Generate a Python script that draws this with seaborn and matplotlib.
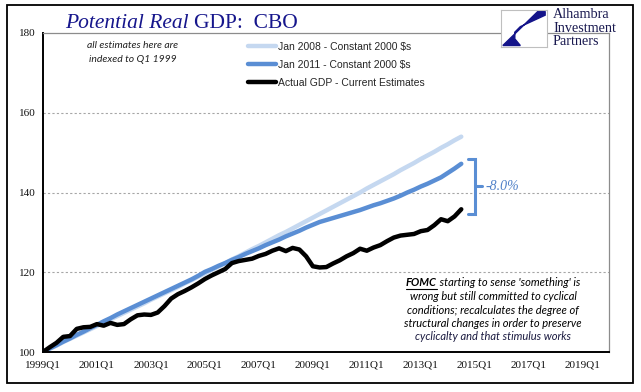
import numpy as np
import pandas as pd
import matplotlib
matplotlib.use('Agg')
import matplotlib.pyplot as plt
import seaborn as sns
from matplotlib.patches import Rectangle, Polygon
from matplotlib.lines import Line2D

# data (index, 1999Q1 = 100)
quarters = [f"{y}Q{q}" for y in range(1999, 2015) for q in range(1, 5)][:63]

jan2008 = [100.0, 100.8, 101.6, 102.5, 103.3, 104.1, 104.9, 105.7, 106.5, 107.4,
           108.2, 109.0, 109.8, 110.6, 111.4, 112.2, 113.1, 113.9, 114.7, 115.5,
           116.3, 117.2, 118.0, 118.9, 119.7, 120.6, 121.4, 122.3, 123.2, 124.0,
           124.9, 125.8, 126.6, 127.5, 128.4, 129.3, 130.1, 131.0, 131.9, 132.8,
           133.7, 134.6, 135.5, 136.4, 137.3, 138.2, 139.1, 140.0, 141.0, 141.9,
           142.8, 143.7, 144.6, 145.6, 146.5, 147.4, 148.4, 149.3, 150.2, 151.2,
           152.1, 153.1, 154.0]

jan2011 = [100.0, 100.9, 101.7, 102.6, 103.4, 104.3, 105.1, 106.0, 106.8, 107.7,
           108.5, 109.4, 110.2, 111.0, 111.8, 112.6, 113.4, 114.2, 115.0, 115.8,
           116.6, 117.4, 118.2, 119.1, 120.1, 120.8, 121.6, 122.3, 123.1, 123.8,
           124.6, 125.3, 126.0, 126.8, 127.5, 128.2, 129.0, 129.7, 130.4, 131.2,
           131.9, 132.6, 133.1, 133.6, 134.1, 134.6, 135.1, 135.6, 136.2, 136.8,
           137.3, 137.9, 138.5, 139.2, 140.0, 140.7, 141.5, 142.2, 143.0, 143.8,
           144.9, 146.0, 147.2]

actual = [100.0, 101.2, 102.3, 103.8, 104.0, 105.8, 106.2, 106.3, 107.0, 106.6,
          107.3, 106.8, 107.0, 108.2, 109.2, 109.4, 109.3, 109.9, 111.5, 113.4,
          114.5, 115.3, 116.2, 117.2, 118.3, 119.2, 120.0, 120.8, 122.3, 122.8,
          123.1, 123.4, 124.1, 124.6, 125.4, 126.0, 125.3, 126.1, 125.7, 124.0,
          121.5, 121.2, 121.3, 122.2, 123.0, 124.0, 124.8, 125.9, 125.4, 126.2,
          126.8, 127.8, 128.7, 129.2, 129.4, 129.6, 130.3, 130.6, 131.8, 133.3,
          132.8, 134.0, 135.8]

tick_labels = ['1999Q1', '2001Q1', '2003Q1', '2005Q1', '2007Q1', '2009Q1',
               '2011Q1', '2013Q1', '2015Q1', '2017Q1', '2019Q1']

names = ['Jan 2008 - Constant 2000 $s', 'Jan 2011 - Constant 2000 $s',
         'Actual GDP - Current Estimates']
colors = ['#C5D8F0', '#5A8ED4', '#000000']
gap_label = '-8.0%'

df = pd.DataFrame({'idx': np.arange(len(quarters)), names[0]: jan2008,
                   names[1]: jan2011, names[2]: actual})
long = df.melt(id_vars='idx', var_name='series', value_name='value')

sns.set_style('white')
plt.rcParams['font.family'] = ['Liberation Sans', 'DejaVu Sans']

W, H = 641, 392
fig = plt.figure(figsize=(W / 100, H / 100), dpi=100)


def px(x, y):
    return x / W, 1 - y / H


ax = fig.add_axes([43 / W, 1 - 352 / H, (609 - 43) / W, (352 - 33) / H])
sns.lineplot(data=long, x='idx', y='value', hue='series', hue_order=names,
             palette=colors, linewidth=3.2, ax=ax, legend=False)

ax.set_xlim(0, 83.9)
ax.set_ylim(100, 180)
ax.set_xlabel('')
ax.set_ylabel('')
ax.set_xticks(np.arange(0, 81, 8))
ax.set_xticklabels(tick_labels, family='Liberation Serif', fontsize=8, color='#111111')
ax.set_yticks([100, 120, 140, 160, 180])
ax.set_yticklabels(['100', '120', '140', '160', '180'], family='Liberation Serif',
                   fontsize=8, color='#111111')
ax.tick_params(axis='both', direction='out', length=4, width=1, color='black', pad=2)
ax.tick_params(axis='y', length=3)
for v in [120, 140, 160]:
    ax.axhline(v, color='#A6A6A6', linestyle=(0, (2, 2)), linewidth=0.8, zorder=0)
for s in ['left', 'bottom']:
    ax.spines[s].set_color('black')
    ax.spines[s].set_linewidth(1.4)
for s in ['top', 'right']:
    ax.spines[s].set_color('#8C8C8C')
    ax.spines[s].set_linewidth(0.9)

# legend
handles = [Line2D([0], [0], color=c, linewidth=3.2) for c in colors]
ax.legend(handles, names, loc='upper left', bbox_to_anchor=px(248, 42),
          bbox_transform=fig.transFigure, frameon=False, fontsize=7.5,
          handlelength=2.7, handletextpad=0.15, labelspacing=0.75, borderpad=0,
          borderaxespad=0)

# bracket for the gap
end = len(actual) - 1
top, bot = jan2011[-1] + 1.3, actual[-1] - 1.2
mid = (top + bot) / 2
bc = '#5A8ED4'
ax.plot([end + 1.0, end + 2.1, end + 2.1, end + 1.0], [top, top, bot, bot],
        color=bc, linewidth=2.2, solid_joinstyle='miter', clip_on=False)
ax.plot([end + 2.1, end + 3.1], [mid, mid], color=bc, linewidth=2.2, clip_on=False)
ax.text(end + 3.6, mid, gap_label, color='#4F80C8', fontsize=10, style='italic',
        family='Liberation Serif', va='center', ha='left')

# title
r = fig.canvas.get_renderer()
t1 = fig.text(*px(65, 23), 'Potential Real', family='Liberation Serif', style='italic',
              fontsize=15.5, color='#16168C', va='center', ha='left')
bb = t1.get_window_extent(r)
fig.text(bb.x1 / W + 5 / W, px(0, 23)[1], 'GDP:  CBO', family='Liberation Serif',
         fontsize=15.5, color='#16168C', va='center', ha='left')

# note top left
fig.text(*px(133, 45), 'all estimates here are', family='Lato', style='italic',
         fontsize=7.5, color='#222222', ha='center', va='center')
fig.text(*px(133, 59), 'indexed to Q1 1999', family='Lato', style='italic',
         fontsize=7.5, color='#222222', ha='center', va='center')

# FOMC note
cx = 493
a = fig.text(0, 0, 'FOMC', family='Lato', style='italic', weight='bold', fontsize=8,
             color='black', va='center', ha='left')
b = fig.text(0, 0, " starting to sense 'something' is", family='Lato', style='italic',
             fontsize=8, color='black', va='center', ha='left')
wa = a.get_window_extent(r).width
wb = b.get_window_extent(r).width
x0 = cx - (wa + wb) / 2
a.set_position(px(x0, 283))
b.set_position(px(x0 + wa, 283))
fig.add_artist(Line2D([x0 / W, (x0 + wa) / W], [px(0, 289)[1]] * 2, color='black',
                      linewidth=0.8))
rest = ['wrong but still committed to cyclical', 'conditions; recalculates the degree of',
        'structural changes in order to preserve', 'cyclicalty and that stimulus works']
for i, line in enumerate(rest):
    fig.text(*px(cx, 296.5 + 13.5 * i), line, family='Lato', style='italic', fontsize=8,
             color='black' if i < 3 else '#1a1a40', ha='center', va='center')

# logo
lax = fig.add_axes([501 / W, 1 - 47 / H, 46 / W, 37 / H])
lax.set_xlim(0, 1)
lax.set_ylim(0, 1)
lax.set_xticks([])
lax.set_yticks([])
for s in lax.spines.values():
    s.set_color('#BFBFBF')
    s.set_linewidth(0.8)
lax.add_patch(Polygon([(0.04, 0.04), (0.42, 0.04), (0.30, 0.22), (0.30, 0.40),
                       (0.42, 0.55), (0.96, 0.86), (0.96, 0.96), (0.80, 0.96)],
                      closed=True, color='#14148A'))
for i, w in enumerate(['Alhambra', 'Investment', 'Partners']):
    fig.text(*px(553, 15 + 13.3 * i), w, family='Liberation Serif', fontsize=10.2,
             color='#1A1A50', ha='left', va='center')

# outer frame
fig.add_artist(Rectangle(px(7, 383), 626 / W, 378 / H, fill=False, edgecolor='black',
                         linewidth=1.3, transform=fig.transFigure))

fig.savefig('out.png', dpi=100)
